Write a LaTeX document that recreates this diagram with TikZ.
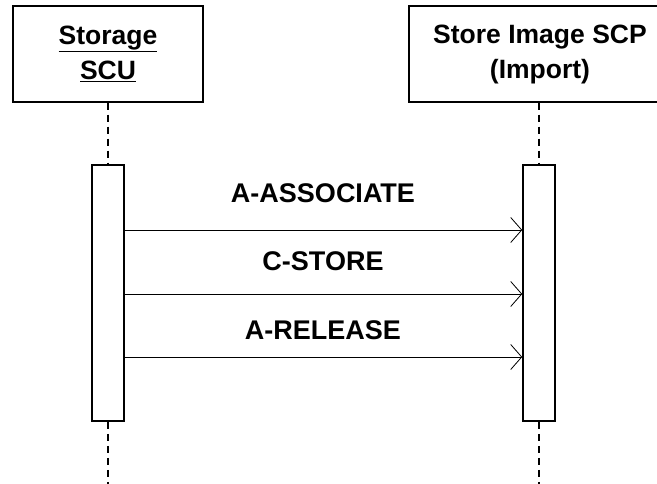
\documentclass[tikz,border=0pt]{standalone}
\usepackage{fontspec}
\setmainfont{Liberation Sans}
\usetikzlibrary{arrows.meta}

\begin{document}
\begin{tikzpicture}[x=1pt,y=-1pt]
    \tikzstyle{obj}=[
      draw=black,
      line width=1.5pt,
      minimum height=96pt,
      inner sep=0pt,
      align=center,
      font=\bfseries\fontsize{26.5}{35}\selectfont,
    ]
    \tikzstyle{act}  = [draw=black,line width=1.5pt,fill=white,minimum width=32pt,minimum height=256pt,inner sep=0pt]
    \tikzstyle{life} = [line width=1.2pt,draw=black,dash pattern=on 7pt off 5pt]
    \tikzstyle{msg}  = [line width=0.8pt,-{Straight Barb[length=11pt,width=25pt]},draw=black]
    \tikzstyle{lbl}  = [font=\bfseries\fontsize{27}{30}\selectfont,inner sep=0pt]

    \useasboundingbox (0,0) rectangle (657,484);

    \node[obj,minimum width=190pt] (scu) at (108,54) {\underline{Storage}\\\underline{SCU}};
    \node[obj,minimum width=262pt] (scp) at (540,54) {Store Image SCP\\(Import)};

    \node[act] (scuact) at (108,293) {};
    \node[act] (scpact) at (539,293) {};

    \coordinate (scuend) at (108,484);
    \coordinate (scpend) at (539,484);

    \draw[life] (scu.south) -- (scuact.north);
    \draw[life] (scuact.south) -- (scuend);
    \draw[life] (scu.south -| scpact.north) -- (scpact.north);
    \draw[life] (scpact.south) -- (scpend);

    \coordinate (m1) at (0,230);
    \coordinate (m2) at (0,294);
    \coordinate (m3) at (0,357);

    \draw[msg] (scuact.east |- m1) -- (scpact.west |- m1);
    \draw[msg] (scuact.east |- m2) -- (scpact.west |- m2);
    \draw[msg] (scuact.east |- m3) -- (scpact.west |- m3);

    \node[lbl] (assoc) at (323,193) {A-ASSOCIATE};
    \node[lbl] (store) at (323,261) {C-STORE};
    \node[lbl] (release) at (323,330) {A-RELEASE};
\end{tikzpicture}
\end{document}
